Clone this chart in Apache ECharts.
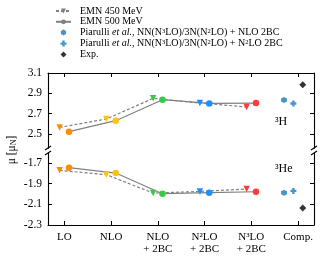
<!DOCTYPE html>
<html><head><meta charset="utf-8">
<script src="https://cdn.jsdelivr.net/npm/echarts@6/dist/echarts.min.js"></script>
<style>html,body{margin:0;padding:0;background:#fff}#c{width:325px;height:260px}</style>
</head><body><div id="c"></div>
<script>
var categories = ['LO', 'NLO', 'NLO\n+ 2BC', 'N²LO\n+ 2BC', 'N³LO\n+ 2BC', 'Comp.'];
var stageColors = ['#ff8c00', '#ffc20e', '#33cc44', '#1e90ff', '#ff3c3c'];
var h3Emn450 = [2.564, 2.647, 2.850, 2.804, 2.765];
var h3Emn500 = [2.522, 2.630, 2.837, 2.800, 2.804];
var he3Emn450 = [-1.771, -1.813, -1.991, -1.975, -1.952];
var he3Emn500 = [-1.745, -1.797, -1.997, -1.987, -1.978];
var h3PiarulliNLO = 2.834, h3PiarulliN2LO = 2.800, h3Exp = 2.985;
var he3PiarulliNLO = -1.987, he3PiarulliN2LO = -1.970, he3Exp = -2.135;
var topTicks = [2.5, 2.7, 2.9, 3.1];
var bottomTicks = [-2.3, -2.1, -1.9, -1.7];
var xTicks = [0, 1, 2, 3, 4, 5];

var FONT = 'Liberation Serif';
var HEX = 'path://M0,-1 L0.866,-0.5 L0.866,0.5 L0,1 L-0.866,0.5 L-0.866,-0.5 Z';
var PLUS = 'path://M-0.4,-1 L0.4,-1 L0.4,-0.4 L1,-0.4 L1,0.4 L0.4,0.4 L0.4,1 L-0.4,1 L-0.4,0.4 L-1,0.4 L-1,-0.4 L-0.4,-0.4 Z';
var DIAM = 'path://M0,-1 L1,0 L0,1 L-1,0 Z';
var PCOL = '#1f7cb8';

function pts(vals, off) {
  return vals.map(function (v, i) { return { value: [i + off, v], itemStyle: { color: stageColors[i] } }; });
}
var chart = echarts.init(document.getElementById('c'));
function xAx(idx, pos, labels) {
  return {
    type: 'value', gridIndex: idx, position: pos, min: -0.349, max: 5.341,
    axisLine: { show: true, lineStyle: { color: '#000', width: 1.1 } },
    axisTick: { show: true, inside: true, length: 4, customValues: xTicks, lineStyle: { color: '#000' } },
    axisLabel: labels ? { show: true, customValues: xTicks, margin: 6, fontFamily: FONT, fontSize: 11, color: '#000', lineHeight: 12,
      formatter: function (v) { return categories[Math.round(v)]; } } : { show: false },
    splitLine: { show: false }
  };
}
function yAx(idx, pos, mn, mx, ticks, labels) {
  return {
    type: 'value', gridIndex: idx, position: pos, min: mn, max: mx,
    axisLine: { show: true, onZero: false, lineStyle: { color: '#000', width: 1.1 } },
    axisTick: { show: true, inside: true, length: 4, customValues: ticks, lineStyle: { color: '#000' } },
    axisLabel: labels ? { show: true, customValues: ticks, margin: 6, fontFamily: FONT, fontSize: 11.5, color: '#000',
      formatter: function (v) { return v.toFixed(1); } } : { show: false },
    splitLine: { show: false }
  };
}
var lineCommon = { type: 'line', symbolSize: 6.5, z: 3, itemStyle: { color: '#808080' } };
var series = [
  Object.assign({}, lineCommon, { name: 'EMN 450 MeV', xAxisIndex: 0, yAxisIndex: 0, symbol: 'triangle', symbolRotate: 180,
    lineStyle: { color: '#808080', width: 1.2, type: [3, 2] }, data: pts(h3Emn450, -0.1) }),
  Object.assign({}, lineCommon, { name: 'EMN 450 MeV', xAxisIndex: 1, yAxisIndex: 2, symbol: 'triangle', symbolRotate: 180,
    lineStyle: { color: '#808080', width: 1.2, type: [3, 2] }, data: pts(he3Emn450, -0.1) }),
  Object.assign({}, lineCommon, { name: 'EMN 500 MeV', xAxisIndex: 0, yAxisIndex: 0, symbol: 'circle',
    lineStyle: { color: '#808080', width: 1.2 }, data: pts(h3Emn500, 0.1) }),
  Object.assign({}, lineCommon, { name: 'EMN 500 MeV', xAxisIndex: 1, yAxisIndex: 2, symbol: 'circle',
    lineStyle: { color: '#808080', width: 1.2 }, data: pts(he3Emn500, 0.1) }),
  { type: 'scatter', name: 'P1', xAxisIndex: 0, yAxisIndex: 0, symbol: HEX, symbolSize: 6, itemStyle: { color: PCOL }, data: [[4.7, h3PiarulliNLO]] },
  { type: 'scatter', name: 'P1', xAxisIndex: 1, yAxisIndex: 2, symbol: HEX, symbolSize: 6, itemStyle: { color: PCOL }, data: [[4.7, he3PiarulliNLO]] },
  { type: 'scatter', name: 'P2', xAxisIndex: 0, yAxisIndex: 0, symbol: PLUS, symbolSize: 6, itemStyle: { color: PCOL }, data: [[4.9, h3PiarulliN2LO]] },
  { type: 'scatter', name: 'P2', xAxisIndex: 1, yAxisIndex: 2, symbol: PLUS, symbolSize: 6, itemStyle: { color: PCOL }, data: [[4.9, he3PiarulliN2LO]] },
  { type: 'scatter', name: 'Exp.', xAxisIndex: 0, yAxisIndex: 0, symbol: DIAM, symbolSize: 7, itemStyle: { color: '#000' }, data: [[5.1, h3Exp]] },
  { type: 'scatter', name: 'Exp.', xAxisIndex: 1, yAxisIndex: 2, symbol: DIAM, symbolSize: 7, itemStyle: { color: '#000' }, data: [[5.1, he3Exp]] }
];
var legendNames = {
  'EMN 450 MeV': 'EMN 450 MeV',
  'EMN 500 MeV': 'EMN 500 MeV',
  'P1': 'Piarulli {it|et al.}, NN(N{sup|3}LO)/3N(N{sup|2}LO) + NLO 2BC',
  'P2': 'Piarulli {it|et al.}, NN(N{sup|3}LO)/3N(N{sup|2}LO) + N{sup|2}LO 2BC',
  'Exp.': 'Exp.'
};
var breakStyle = { stroke: '#000', lineWidth: 1.1 };
var LF = 10;
chart.setOption({
  animation: false,
  grid: [
    { left: 48, width: 266, top: 73, height: 75 },
    { left: 48, width: 266, top: 153, height: 72 }
  ],
  xAxis: [xAx(0, 'top', false), xAx(1, 'bottom', true)],
  yAxis: [
    yAx(0, 'left', 2.361, 3.1, topTicks, true),
    yAx(0, 'right', 2.361, 3.1, topTicks, false),
    yAx(1, 'left', -2.3, -1.603, bottomTicks, true),
    yAx(1, 'right', -2.3, -1.603, bottomTicks, false)
  ],
  legend: {
    orient: 'vertical', left: 50, top: 1, itemWidth: 15, itemHeight: 6, itemGap: 0.8,
    data: ['EMN 450 MeV', 'EMN 500 MeV', 'P1', 'P2', 'Exp.'],
    formatter: function (n) { return legendNames[n]; },
    textStyle: { fontFamily: FONT, fontSize: LF, color: '#000', lineHeight: 9.6, padding: [0, 0, 0, 4],
      rich: { it: { fontFamily: FONT, fontSize: LF, fontStyle: 'italic', lineHeight: 9.6 },
              sup: { fontFamily: FONT, fontSize: 6.5, verticalAlign: 'top', lineHeight: 6.5, padding: [0, 0, 3, 0] } } },
    selectedMode: false
  },
  graphic: [
    { type: 'text', x: 12, y: 150, rotation: Math.PI / 2,
      style: { text: 'μ [μ{sub|N}]', font: '11.5px ' + FONT, fill: '#000', align: 'center', verticalAlign: 'middle',
        rich: { sub: { fontSize: 8, fontFamily: FONT, verticalAlign: 'bottom', padding: [4, 0, 0, 0] } } } },
    { type: 'text', x: 275, y: 122, style: { text: '³H', font: '12px ' + FONT, fill: '#000', verticalAlign: 'middle' } },
    { type: 'text', x: 275, y: 169, style: { text: '³He', font: '12px ' + FONT, fill: '#000', verticalAlign: 'middle' } },
    { type: 'line', shape: { x1: 45, y1: 150, x2: 51, y2: 146 }, style: breakStyle },
    { type: 'line', shape: { x1: 45, y1: 155, x2: 51, y2: 151 }, style: breakStyle },
    { type: 'line', shape: { x1: 311, y1: 150, x2: 317, y2: 146 }, style: breakStyle },
    { type: 'line', shape: { x1: 311, y1: 155, x2: 317, y2: 151 }, style: breakStyle }
  ],
  series: series
});
</script></body></html>
